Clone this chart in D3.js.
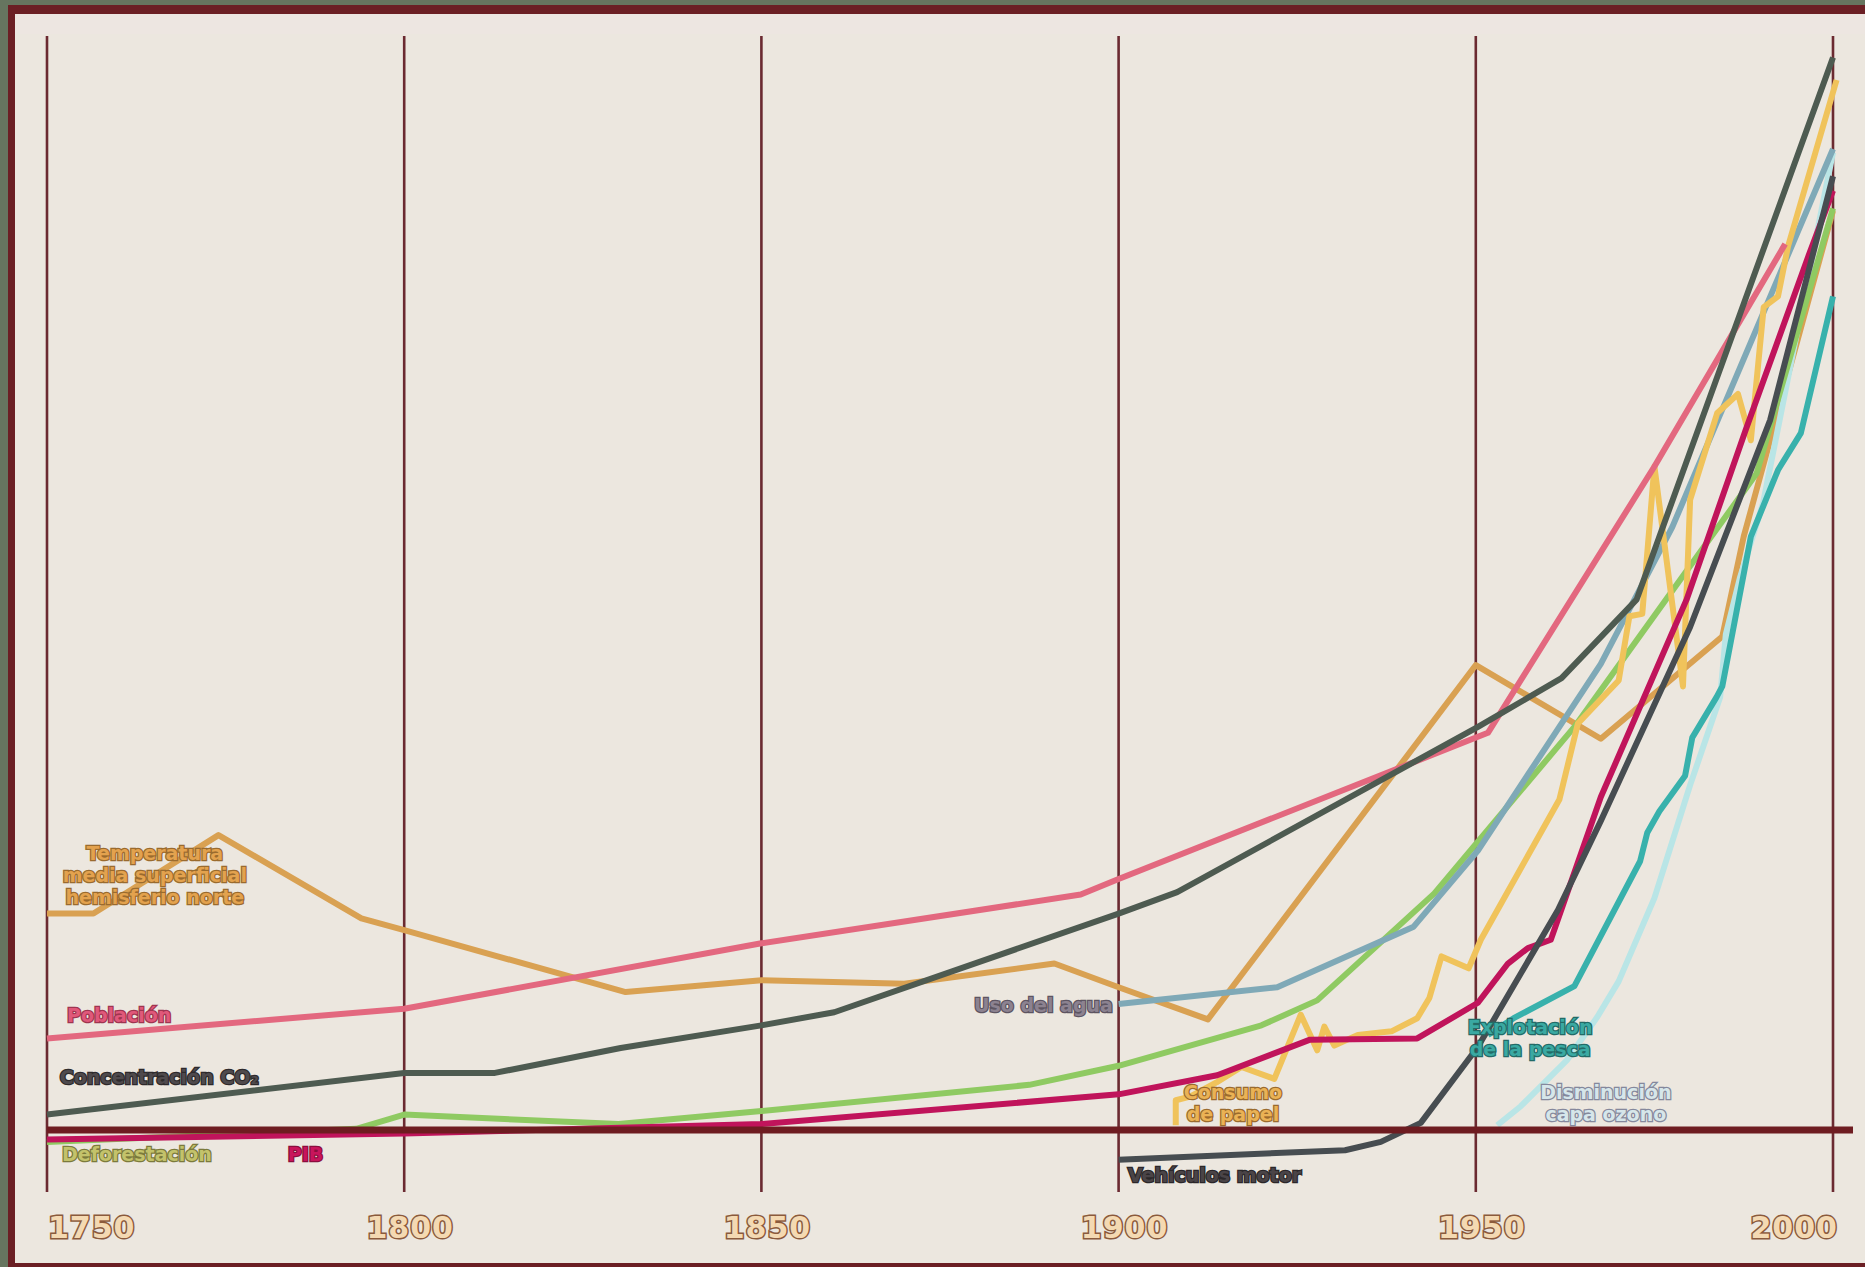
<!DOCTYPE html>
<html>
<head>
<meta charset="utf-8">
<script src="https://cdn.jsdelivr.net/npm/d3@7"></script>
<style>
  html, body { margin: 0; padding: 0; background: #ece7df; overflow: hidden; }
  svg { display: block; }
</style>
</head>
<body>
<svg id="chart" width="1865" height="1267"></svg>
<script>
// ---------------- DATA ----------------
const tickYears = [1750, 1800, 1850, 1900, 1950, 2000];
const tickLabels = ["1750", "1800", "1850", "1900", "1950", "2000"];

// Temperatura media superficial hemisferio norte
const tempYears  = [1750, 1756.5, 1774, 1794, 1800, 1831, 1850, 1870, 1891, 1900, 1912.5, 1950, 1967.5, 1984.5, 1987.5, 2000];
const tempValues = [182, 182, 248, 178, 168, 116, 126, 123, 140, 120, 93, 391, 329, 415, 499, 773];

// Población
const popYears  = [1750, 1800, 1850, 1894.7, 1900, 1951.7, 1975, 1993.3];
const popValues = [77, 102, 157, 198, 211, 334, 558, 745];

// Concentración CO2
const co2Years  = [1750, 1800, 1812.7, 1830.3, 1850, 1860.2, 1900, 1908.2, 1950.3, 1962, 1972.5, 2000];
const co2Values = [13, 48, 48, 69, 88, 99, 182, 200, 339, 380, 446, 902];

// Deforestación
const defYears  = [1750, 1793.3, 1800, 1830, 1850, 1887.5, 1900, 1920, 1927.8, 1944.2, 1963.8, 1989.3, 2000];
const defValues = [-10, 1, 13, 5, 16, 38, 54, 88, 109, 199, 339, 552, 775];

// PIB
const pibYears  = [1750, 1800, 1850, 1900, 1913.8, 1926.8, 1941.8, 1950.3, 1954.5, 1957.3, 1960.5, 1967.5, 1979.5, 1987.8, 1996.5, 2000];
const pibValues = [-8, -3, 5, 30, 46, 76, 77, 107, 140, 153, 160, 280, 446, 589, 734, 790];

// Uso del agua
const aguaYears  = [1900, 1922.2, 1941.3, 1950.3, 1967.5, 1977.5, 2000];
const aguaValues = [106, 120, 171, 235, 392, 507, 825];

// Vehículos motor
const vehYears  = [1900, 1931.7, 1936.7, 1942.3, 1950.3, 1961.5, 1967.5, 1980, 1991.2, 2000];
const vehValues = [-25, -17, -10, 6, 70, 185, 260, 423, 597, 802];

// Explotación de la pesca
const pescaYears  = [1951.7, 1955.3, 1963.8, 1973, 1974, 1975.7, 1979.3, 1980.3, 1983.7, 1984.5, 1988.5, 1992.3, 1995.5, 2000];
const pescaValues = [80, 94, 121, 226, 250, 268, 298, 330, 364, 373, 499, 555, 586, 701];

// Disminución capa ozono
const ozonoYears  = [1953, 1956.3, 1962.8, 1967, 1970, 1975, 1980, 1984.2, 1985, 1987, 1990.2, 2000];
const ozonoValues = [4, 20, 59, 95, 125, 195, 290, 364, 417, 465, 527, 822];

// Consumo de papel
const papelYears  = [1908, 1908, 1910, 1913.7, 1917.2, 1921.8, 1925.5, 1927.8, 1928.8, 1930.2, 1933.5, 1938.2, 1941.8, 1943.5, 1945.2, 1949, 1950.7, 1961.7, 1964.3, 1970, 1971.5, 1973.3, 1975, 1979, 1980, 1983.8, 1986.7, 1988.5, 1990.3, 1992.3, 1993.7, 2000.5];
const papelValues = [4, 25, 28, 40, 53, 43, 97, 67, 87, 71, 80, 83, 94, 111, 146, 136, 160, 278, 342, 378, 432, 434, 558, 373, 530, 603, 619, 580, 692, 701, 743, 883];

// Labels (text lines, anchor in data coordinates)
const labelNames = ["temp", "pop", "co2", "def", "pib", "agua", "papel", "veh", "pesca", "ozono"];
const labelLines = [
  ["Temperatura", "media superficial", "hemisferio norte"],
  ["Población"],
  ["Concentración CO₂"],
  ["Deforestación"],
  ["PIB"],
  ["Uso del agua"],
  ["Consumo", "de papel"],
  ["Vehículos motor"],
  ["Explotación", "de la pesca"],
  ["Disminución", "capa ozono"]
];
const labelYears  = [1765.1, 1752.8, 1751.8, 1752.1, 1783.7, 1899.2, 1916.0, 1901.3, 1957.6, 1968.2];
const labelValues = [233, 96.7, 44.6, -20.2, -20.2, 105.1, 31.9, -37.8, 86.6, 31.9];

// ---------------- STYLES ----------------
const seriesStyle = {
  temp:  { color: "#d9a152" },
  ozono: { color: "#b9e5e6" },
  pesca: { color: "#38b1ac" },
  def:   { color: "#8fca62" },
  agua:  { color: "#7fa9b7" },
  pib:   { color: "#c0145b" },
  veh:   { color: "#474d51" },
  papel: { color: "#f0c35b" },
  pop:   { color: "#e3687f" },
  co2:   { color: "#4e5b51" }
};
const labelStyle = {
  temp:  { fill: "#e3a24e", stroke: "#9a6b2e", anchor: "middle" },
  pop:   { fill: "#e0587a", stroke: "#9e3550", anchor: "start" },
  co2:   { fill: "#4f4a4d", stroke: "#2e2a2c", anchor: "start" },
  def:   { fill: "#c3c26b", stroke: "#7b7a3c", anchor: "start" },
  pib:   { fill: "#c8155c", stroke: "#8a0e3e", anchor: "start" },
  agua:  { fill: "#8c8290", stroke: "#5d5562", anchor: "end" },
  papel: { fill: "#eab255", stroke: "#9a6b2e", anchor: "middle" },
  veh:   { fill: "#4a4447", stroke: "#2b2729", anchor: "start" },
  pesca: { fill: "#3aa9a2", stroke: "#236b67", anchor: "middle" },
  ozono: { fill: "#d6e6ea", stroke: "#85889c", anchor: "middle" }
};

const series = [
  { key: "temp",  years: tempYears,  values: tempValues },
  { key: "ozono", years: ozonoYears, values: ozonoValues },
  { key: "pesca", years: pescaYears, values: pescaValues },
  { key: "def",   years: defYears,   values: defValues },
  { key: "agua",  years: aguaYears,  values: aguaValues },
  { key: "papel", years: papelYears, values: papelValues },
  { key: "pib",   years: pibYears,   values: pibValues },
  { key: "veh",   years: vehYears,   values: vehValues },
  { key: "pop",   years: popYears,   values: popValues },
  { key: "co2",   years: co2Years,   values: co2Values }
];

// ---------------- CHART ----------------
const W = 1865, H = 1267;
const svg = d3.select("#chart");

const x = d3.scaleLinear().domain([1750, 2000]).range([47, 1833]);
const y = d3.scaleLinear().domain([0, 920]).range([1130, 36]);

// background + frame
svg.append("rect").attr("x", 0).attr("y", 0).attr("width", W).attr("height", H).attr("fill", "#ece7df");
svg.append("rect").attr("x", 0).attr("y", 14).attr("width", W).attr("height", 20).attr("fill", "#ede6e1");
svg.append("rect").attr("x", 0).attr("y", 0).attr("width", W).attr("height", 5).attr("fill", "#66755f");
svg.append("rect").attr("x", 0).attr("y", 5).attr("width", W).attr("height", 9).attr("fill", "#6b1f24");
svg.append("rect").attr("x", 0).attr("y", 0).attr("width", 8).attr("height", H).attr("fill", "#66755f");
svg.append("rect").attr("x", 8).attr("y", 5).attr("width", 7).attr("height", H - 5).attr("fill", "#6b1f24");
svg.append("rect").attr("x", 8).attr("y", H - 4).attr("width", W).attr("height", 4).attr("fill", "#6b1f24");

// vertical grid lines
svg.append("g").selectAll("line").data(tickYears).join("line")
  .attr("x1", d => x(d)).attr("x2", d => x(d))
  .attr("y1", 36).attr("y2", 1192)
  .attr("stroke", "#6b2a31").attr("stroke-width", 2.6);

// tick labels
svg.append("g").selectAll("text").data(tickYears).join("text")
  .attr("x", (d, i) => i === 0 ? x(d) + 1 : (i === tickYears.length - 1 ? x(d) + 5 : x(d) + 6))
  .attr("y", 1227)
  .attr("text-anchor", (d, i) => i === 0 ? "start" : (i === tickYears.length - 1 ? "end" : "middle"))
  .attr("dominant-baseline", "central")
  .attr("font-family", "DejaVu Sans, sans-serif")
  .attr("font-weight", "bold")
  .attr("font-size", 30)
  .attr("letter-spacing", 1)
  .attr("fill", "#f4d9b2")
  .attr("stroke", "#8a5a3c")
  .attr("stroke-width", 3)
  .attr("paint-order", "stroke")
  .text((d, i) => tickLabels[i]);

// series lines
const line = d3.line().x(d => x(d[0])).y(d => y(d[1]));
const gLines = svg.append("g");
series.forEach(s => {
  const pts = s.years.map((yr, i) => [yr, s.values[i]]);
  gLines.append("path")
    .datum(pts)
    .attr("d", line)
    .attr("fill", "none")
    .attr("stroke", seriesStyle[s.key].color)
    .attr("stroke-width", 6)
    .attr("stroke-linejoin", "round");
});

// baseline
svg.append("line")
  .attr("x1", x(1750)).attr("x2", 1853)
  .attr("y1", y(0)).attr("y2", y(0))
  .attr("stroke", "#6e1c21").attr("stroke-width", 7);

// labels
const gLab = svg.append("g");
labelNames.forEach((k, i) => {
  const st = labelStyle[k];
  const t = gLab.append("text")
    .attr("x", x(labelYears[i]))
    .attr("y", y(labelValues[i]))
    .attr("text-anchor", st.anchor)
    .attr("dominant-baseline", "central")
    .attr("font-family", "DejaVu Sans, sans-serif")
    .attr("font-weight", "bold")
    .attr("font-size", 19)
    .attr("fill", st.fill)
    .attr("stroke", st.stroke)
    .attr("stroke-width", 2.5)
    .attr("paint-order", "stroke");
  labelLines[i].forEach((ln, j) => {
    t.append("tspan")
      .attr("x", x(labelYears[i]))
      .attr("dy", j === 0 ? 0 : 22)
      .text(ln);
  });
});
</script>
</body>
</html>
